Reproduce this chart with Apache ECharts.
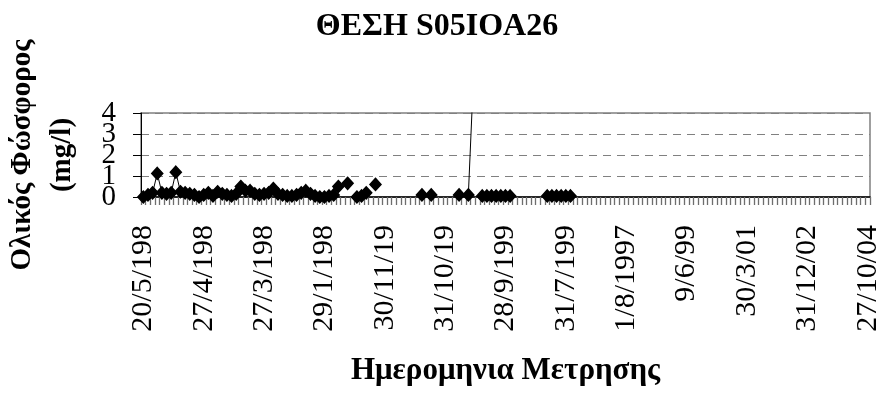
<!DOCTYPE html>
<html>
<head>
<meta charset="utf-8">
<script src="https://cdn.jsdelivr.net/npm/echarts@6/dist/echarts.min.js"></script>
<style>
  html, body { margin: 0; padding: 0; background: #fff; }
  #chart { width: 879px; height: 399px; }
</style>
</head>
<body>
<div id="chart"></div>
<script>
// Measurement dates shown on the category axis (one label every 13 samples)
const tickLabels = [
  '20/5/198', '27/4/198', '27/3/198', '29/1/198', '30/11/19', '31/10/19',
  '28/9/199', '31/7/199', '1/8/1997', '9/6/99', '30/3/01', '31/12/02', '27/10/04'
];
const labelStep = 13;
const sampleCount = 157;
const valueTicks = [0, 1, 2, 3, 4];

// Total phosphorus (mg/l); null = no measurement
const phosphorus = [
  0.0, 0.1, 0.2, 1.12, 0.2, 0.15, 0.2, 1.18, 0.25, 0.2,
  0.15, 0.1, 0.0, 0.1, 0.2, 0.05, 0.25, 0.15, 0.1, 0.05,
  0.15, 0.5, 0.3, 0.3, 0.15, 0.1, 0.15, 0.2, 0.4, 0.15,
  0.1, 0.05, 0.05, 0.1, 0.2, 0.3, 0.15, 0.05, 0.0, 0.0,
  0.05, 0.1, 0.5, null, 0.65, null, 0.0, 0.05, 0.2, null,
  0.6, null, null, null, null, null, null, null, null, null,
  0.1, null, 0.1, null, null, null, null, null, 0.1, null,
  0.1, 5.2, null, 0.05, 0.05, 0.05, 0.05, 0.05, 0.05, 0.05,
  null, null, null, null, null, null, null, 0.05, 0.05, 0.05,
  0.05, 0.05, 0.05
];

const categories = [];
for (let i = 0; i < sampleCount; i++) {
  const k = i / labelStep;
  categories.push(Number.isInteger(k) ? tickLabels[k] : '');
}

const serif = '"Liberation Serif", "DejaVu Serif", serif';
const vMin = valueTicks[0];
const vMax = valueTicks[valueTicks.length - 1];

// The value labels are tall and tightly packed, so even and odd ticks are
// labelled by two overlaid axes to keep every one of them visible.
function valueAxis(showParity, main) {
  return {
    type: 'value',
    position: 'left',
    min: vMin, max: vMax, interval: 1,
    name: main ? 'Ολικός Φώσφορος\n(mg/l)' : '',
    nameLocation: 'middle',
    nameRotate: 90,
    nameGap: 58,
    nameTextStyle: { fontFamily: serif, fontWeight: 'bold', fontSize: 29, lineHeight: 40, color: '#000' },
    axisLine: { show: main, lineStyle: { color: '#000', width: 1 } },
    axisTick: { show: main, length: 8, lineStyle: { color: '#000' } },
    axisLabel: {
      margin: 25, fontFamily: serif, fontSize: 29, color: '#000',
      showMinLabel: true, showMaxLabel: true, hideOverlap: false,
      formatter: v => (valueTicks.includes(v) && v % 2 === showParity) ? String(v) : ''
    },
    splitLine: { show: main, lineStyle: { color: '#808080', type: [8, 6], width: 1 } }
  };
}

const chart = echarts.init(document.getElementById('chart'));
chart.setOption({
  animation: false,
  backgroundColor: '#fff',
  title: {
    text: 'ΘΕΣΗ S05IOA26',
    left: 432,
    textAlign: 'center',
    top: 6,
    textStyle: { fontFamily: serif, fontWeight: 'bold', fontSize: 32, color: '#000' }
  },
  grid: {
    left: 141, right: 9, top: 113, bottom: 202,
    containLabel: false,
    outerBoundsMode: 'none',
    show: true, borderColor: '#808080', borderWidth: 1.5, backgroundColor: '#fff'
  },
  xAxis: {
    type: 'category',
    data: categories,
    boundaryGap: true,
    name: 'Ημερομηνια Μετρησης',
    nameLocation: 'middle',
    nameGap: 158,
    nameTextStyle: { fontFamily: serif, fontWeight: 'bold', fontSize: 31, color: '#000' },
    axisLine: { lineStyle: { color: '#000', width: 1.5 } },
    axisTick: { show: true, interval: 0, length: 8, lineStyle: { color: '#6e6e6e', width: 1.3 } },
    axisLabel: {
      interval: labelStep - 1,
      rotate: 90,
      margin: 28,
      fontFamily: serif,
      fontSize: 30,
      color: '#000'
    },
    splitLine: { show: false }
  },
  yAxis: [valueAxis(0, true), valueAxis(1, false)],
  series: [{
    type: 'line',
    data: phosphorus,
    connectNulls: false,
    symbol: 'diamond',
    symbolSize: [11, 12],
    showAllSymbol: true,
    clip: true,
    itemStyle: { color: '#000', borderColor: '#000', borderWidth: 1.5 },
    lineStyle: { color: '#000', width: 1 }
  }]
});
</script>
</body>
</html>
